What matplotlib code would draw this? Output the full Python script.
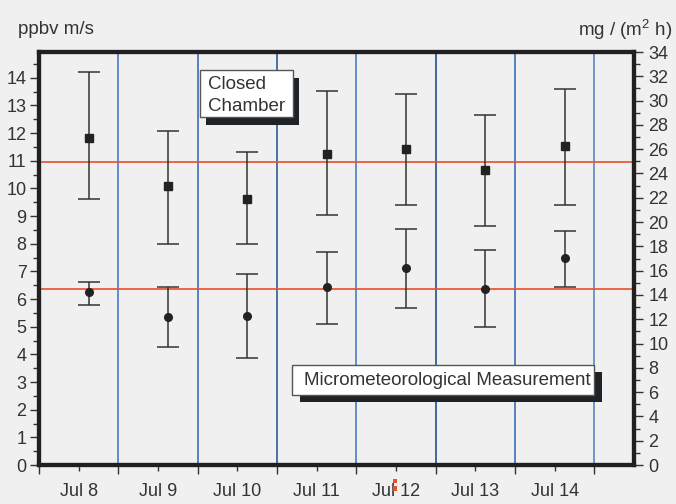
import matplotlib
matplotlib.use('Agg')
import matplotlib.pyplot as plt
from matplotlib.patches import Rectangle
from matplotlib.ticker import MultipleLocator, FixedLocator, NullFormatter, FixedFormatter

plt.rcParams['font.family'] = ['Liberation Sans', 'DejaVu Sans']
plt.rcParams['mathtext.default'] = 'regular'

# ---- data ----
days = ['Jul 8', 'Jul 9', 'Jul 10', 'Jul 11', 'Jul 12', 'Jul 13', 'Jul 14']
day_index = [0, 1, 2, 3, 4, 5, 6]
meas_fraction = 0.627  # time of day of the measurement (fraction of day)

chamber = [11.82, 10.09, 9.62, 11.24, 11.42, 10.67, 11.53]
chamber_hi = [14.20, 12.09, 11.33, 13.52, 13.41, 12.67, 13.61]
chamber_lo = [9.61, 7.98, 7.98, 9.03, 9.40, 8.65, 9.40]

micro = [6.25, 5.34, 5.40, 6.45, 7.13, 6.36, 7.50]
micro_hi = [6.63, 6.45, 6.92, 7.69, 8.54, 7.77, 8.45]
micro_lo = [5.78, 4.25, 3.86, 5.11, 5.68, 5.00, 6.44]

ref_lines = [10.95, 6.35]
left_max = 14.93
right_max = 34

TXT = '#333333'
SPINE = '#231f20'

fig = plt.figure(figsize=(6.76, 5.04), dpi=100)
fig.patch.set_facecolor('#f0f0f0')
W, H = 676, 504
ax = fig.add_axes([39 / W, (H - 465) / H, (634 - 39) / W, (465 - 52) / H])
ax.set_facecolor('none')

ax.set_xlim(0, 7.5)
ax.set_ylim(0, left_max)

# vertical day separators
vcolors = ['#4a7cc0', '#3d6fb8', '#2e5a98', '#4a7cc0', '#244f8f', '#3d6fb8', '#5a86c2']
for d, c in zip(range(1, 8), vcolors):
    ax.axvline(d, color=c, lw=1.2, zorder=1)

# horizontal reference lines
for r in ref_lines:
    ax.axhline(r, color='#e8502a', lw=1.2, zorder=1)

x = [i + meas_fraction for i in day_index]
c_err = [[m - l for m, l in zip(chamber, chamber_lo)], [h - m for m, h in zip(chamber, chamber_hi)]]
m_err = [[m - l for m, l in zip(micro, micro_lo)], [h - m for m, h in zip(micro, micro_hi)]]

ax.errorbar(x, chamber, yerr=c_err, fmt='s', color='#222222', ecolor='#333333',
            ms=5.5, capsize=8, elinewidth=1.1, capthick=1.1, zorder=3)
ax.errorbar(x, micro, yerr=m_err, fmt='o', color='#222222', ecolor='#333333',
            ms=5.5, capsize=8, elinewidth=1.1, capthick=1.1, zorder=3)

# axes styling
for s in ax.spines.values():
    s.set_linewidth(3)
    s.set_color(SPINE)

ax.yaxis.set_major_locator(MultipleLocator(1))
ax.yaxis.set_minor_locator(MultipleLocator(0.5))
ax.xaxis.set_major_locator(FixedLocator(list(range(0, 8))))
ax.xaxis.set_major_formatter(NullFormatter())
ax.xaxis.set_minor_locator(FixedLocator([i + 0.5 for i in day_index]))
ax.xaxis.set_minor_formatter(FixedFormatter(days))

ax.tick_params(axis='y', which='major', direction='out', length=6.5, width=1,
               color=TXT, labelcolor=TXT, labelsize=13, pad=2.5)
ax.tick_params(axis='y', which='minor', direction='out', length=4.5, width=1, color=TXT)
ax.tick_params(axis='x', which='major', direction='out', length=6.5, width=1, color=TXT)
ax.tick_params(axis='x', which='minor', direction='out', length=4, width=1,
               color=TXT, labelcolor=TXT, labelsize=13, pad=9)

ax2 = ax.twinx()
ax2.set_ylim(0, right_max)
ax2.yaxis.set_major_locator(MultipleLocator(2))
ax2.yaxis.set_minor_locator(MultipleLocator(1))
for s in ax2.spines.values():
    s.set_linewidth(3)
    s.set_color(SPINE)
ax2.tick_params(axis='y', which='major', direction='out', length=6.5, width=1,
                color=TXT, labelcolor=TXT, labelsize=13, pad=4)
ax2.tick_params(axis='y', which='minor', direction='out', length=4.5, width=1, color=TXT)

# annotation boxes with drop shadows (data coords of left axis)
px_x = 7.5 / (634 - 39)
px_y = left_max / (465 - 52)

def shadow_box(x0, y0, x1, y1, dx, dy):
    ax.add_patch(Rectangle((x0 + dx * px_x, y0 - dy * px_y), x1 - x0, y1 - y0,
                           facecolor='#1f2326', edgecolor='none', zorder=4))
    ax.add_patch(Rectangle((x0, y0), x1 - x0, y1 - y0, facecolor='white',
                           edgecolor='#555555', lw=1, zorder=5))

shadow_box(2.035, 12.57, 3.20, 14.28, 6, 8)
ax.text(2.13, 13.76, 'Closed', fontsize=13.5, color=TXT, va='center', ha='left', zorder=6)
ax.text(2.13, 12.95, 'Chamber', fontsize=13.5, color=TXT, va='center', ha='left', zorder=6)

shadow_box(3.195, 2.54, 6.995, 3.60, 8, 7)
ax.text(3.338, 3.07, 'Micrometeorological Measurement', fontsize=13.5, color=TXT,
        va='center', ha='left', zorder=6)

# axis unit labels
fig.text(18 / W, 1 - 30 / H, 'ppbv m/s', fontsize=13.5, color=TXT, ha='left', va='center')
fig.text(672 / W, 1 - 30 / H, 'mg / (m$^2$ h)', fontsize=13.5, color=TXT, ha='right', va='center')

# small orange marks near the "Jul 12" label
for yy in (478.5, 486):
    fig.patches.append(Rectangle((393 / W, 1 - (yy + 4.5) / H), 4 / W, 4.5 / H,
                                 transform=fig.transFigure, facecolor='#e8502a',
                                 edgecolor='none', zorder=10))

fig.savefig('out.png', dpi=100, facecolor=fig.get_facecolor())
